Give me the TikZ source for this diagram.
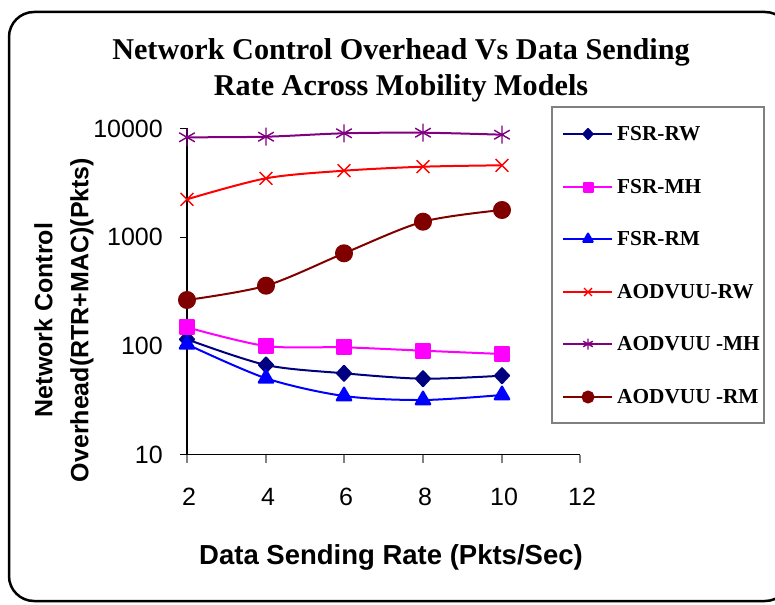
\documentclass[tikz,border=0pt]{standalone}
\usepackage{fontspec}
\setmainfont{Liberation Serif}
\setsansfont{Liberation Sans}
\usetikzlibrary{plotmarks}
\definecolor{cnavy}{RGB}{0,0,128}
\definecolor{cmag}{RGB}{255,0,255}
\definecolor{cblue}{RGB}{0,0,255}
\definecolor{cred}{RGB}{255,0,0}
\definecolor{cpurp}{RGB}{128,0,128}
\definecolor{cbrown}{RGB}{128,0,0}
\begin{document}
\begin{tikzpicture}[x=1pt,y=-1pt,
  series/.style={line width=2pt,line join=round},
  srw/.style={series,cnavy,mark=diamond*,mark size=7.5pt,mark options={solid,fill=cnavy,xscale=1.25}},
  smh/.style={series,cmag,mark=square*,mark size=7pt,mark options={solid,fill=cmag}},
  srm/.style={series,cblue,mark=triangle*,mark size=8.5pt,mark options={solid,fill=cblue}},
  arw/.style={series,cred,mark=x,mark size=9pt,mark options={line width=1.4pt}},
  amh/.style={series,cpurp,mark=asterisk,mark size=9pt,mark options={line width=1.4pt}},
  arm/.style={series,cbrown,mark=*,mark size=8pt,mark options={fill=cbrown}},
  ticklab/.style={font=\sffamily\fontsize{25}{28}\selectfont,inner sep=0pt},
  axtitle/.style={font=\sffamily\bfseries\fontsize{27.5}{36}\selectfont,inner sep=0pt,align=center},
  ytitlestyle/.style={font=\sffamily\bfseries\fontsize{25}{36}\selectfont,inner sep=0pt,align=center},
  legtext/.style={font=\bfseries\fontsize{21.3}{24}\selectfont,inner sep=0pt,anchor=west},
  tickline/.style={line width=1.2pt,gray}
]
\useasboundingbox (0,0) rectangle (775,604);
\clip (0,0) rectangle (775,604);
% outer frame
\draw[line width=2.5pt,rounded corners=25pt] (9,12) rectangle (790,601);
% title
\node[font=\bfseries\fontsize{30.2}{36}\selectfont,align=center,inner sep=0pt] (title) at (401,70)
  {Network Control Overhead Vs Data Sending\\Rate Across Mobility Models};
% axes
\coordinate (o) at (187,454.5);
\coordinate (ytop) at (187,128.5);
\coordinate (xend) at (580,454.5);
\draw[line width=1.3pt] (ytop) -- (o) -- (xend);
% y ticks and labels
\foreach \yy/\lab in {454.5/10,345.8/100,237.2/1000,128.5/10000}{
  \draw[line width=1.2pt] (180,\yy) -- (187,\yy);
  \node[ticklab,anchor=east] (yl\lab) at (163,\yy) {\lab};
}
% x ticks and labels
\foreach \v/\xx in {2/187,4/266,6/344,8/423,10/502,12/580}{
  \draw[tickline] (\xx,455) -- (\xx,463);
  \node[ticklab] (xl\v) at (\xx+2,497) {\v};
}
% axis titles
\node[axtitle] (xtitle) at (391,557) {Data Sending Rate (Pkts/Sec)};
\node[ytitlestyle,rotate=90] (ytitle) at (64,320) {Network Control\\Overhead(RTR+MAC)(Pkts)};
% series
\draw[srw] plot[smooth,tension=0.5] coordinates {(187,339.3) (266,365) (344,373.3) (423,378.7) (502,375.7)};
\draw[smh] plot[smooth,tension=0.5] coordinates {(187,327.3) (266,346) (344,347.3) (423,350.7) (502,354)};
\draw[srm] plot[smooth,tension=0.5] coordinates {(187,344.3) (266,378.3) (344,396) (423,400) (502,395)};
\draw[arw] plot[smooth,tension=0.5] coordinates {(187,199.3) (266,178.3) (344,170.7) (423,166.7) (502,165.3)};
\draw[amh] plot[smooth,tension=0.5] coordinates {(187,137.3) (266,136.7) (344,133.3) (423,132.7) (502,134.7)};
\draw[arm] plot[smooth,tension=0.5] coordinates {(187,300) (266,285.7) (344,253.3) (423,221.7) (502,210)};
% legend
\draw[line width=1.2pt,gray] (552,107) rectangle (764,423);
\foreach \st/\yy/\ms in {srw/134/5pt,smh/187/4.5pt,srm/239/5.5pt,arw/292/5.5pt,amh/344/5.5pt,arm/397/5.5pt}{
  \draw[\st,mark size=\ms,mark indices={2}] plot coordinates {(563,\yy) (588,\yy) (612,\yy)};
}
\foreach \yy/\txt/\nm in {134/FSR-RW/l1,187/FSR-MH/l2,239/FSR-RM/l3,292/AODVUU-RW/l4,344/AODVUU -MH/l5,397/AODVUU -RM/l6}{
  \node[legtext] (\nm) at (617,\yy) {\txt};
}
\end{tikzpicture}
\end{document}
